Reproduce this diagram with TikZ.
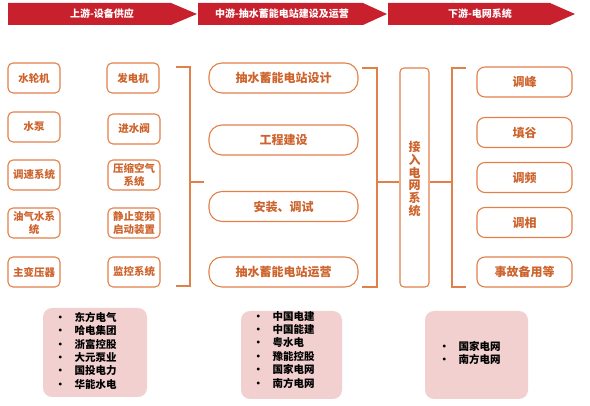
\documentclass[tikz,border=0pt]{standalone}
\usepackage{fontspec}
\setmainfont{Noto Sans CJK SC}
\usepackage{tikz}
\usetikzlibrary{arrows.meta, positioning, calc}

\definecolor{bannerred}{RGB}{200,32,45}
\definecolor{lineorange}{RGB}{226,128,74}
\definecolor{textorange}{RGB}{205,100,45}
\definecolor{listpink}{RGB}{242,208,208}

\begin{document}
\begin{tikzpicture}[x=1pt, y=-1pt,
    banner/.style={font=\bfseries\fontsize{10}{12}\selectfont, text=white},
    partbox/.style={draw=lineorange, line width=1.1pt, rounded corners=5pt, minimum width=52pt, minimum height=30pt, inner sep=1pt, align=center, text=textorange, font=\bfseries\fontsize{10.5}{13}\selectfont},
    buildbox/.style={draw=lineorange, line width=1.1pt, rounded corners=13pt, minimum width=149pt, minimum height=30pt, text=textorange, font=\bfseries\fontsize{12}{14}\selectfont},
    gridbox/.style={draw=lineorange, line width=1.1pt, rounded corners=8pt, minimum width=95pt, minimum height=30pt, text=textorange, font=\bfseries\fontsize{12}{14}\selectfont},
    bracket/.style={draw=lineorange, line width=1.1pt},
    listbox/.style={fill=listpink, rounded corners=9pt},
    listtext/.style={anchor=north west, align=left, inner sep=0pt, font=\bfseries\fontsize{10.5}{13.4}\selectfont}]
    \useasboundingbox (0,0) rectangle (590,406);

    % banners
    \fill[bannerred] (8,3) -- (171,3) -- (197,14) -- (171,25) -- (8,25) -- cycle;
    \fill[bannerred] (198,3) -- (363,3) -- (387,14) -- (363,25) -- (198,25) -- cycle;
    \fill[bannerred] (388,3) -- (550,3) -- (575,14) -- (550,25) -- (388,25) -- cycle;
    \node[banner] (up) at (102,14) {上游-设备供应};
    \node[banner] (mid) at (282,14) {中游-抽水蓄能电站建设及运营};
    \node[banner] (down) at (480,14) {下游-电网系统};

    % upstream equipment
    \node[partbox] (turbine) at (34,78) {水轮机};
    \node[partbox] (pump) at (34,127) {水泵};
    \node[partbox] (governor) at (34,175) {调速系统};
    \node[partbox] (oilgas) at (34,223) {油气水系\\统};
    \node[partbox] (transformer) at (34,272) {主变压器};
    \node[partbox] (generator) at (133,78) {发电机};
    \node[partbox] (valve) at (134,129) {进水阀};
    \node[partbox] (air) at (134,175) {压缩空气\\系统};
    \node[partbox] (sfc) at (134,223) {静止变频\\启动装置};
    \node[partbox] (monitor) at (134,272) {监控系统};

    % midstream
    \node[buildbox] (design) at (283.5,78) {抽水蓄能电站设计};
    \node[buildbox] (build) at (283.5,140) {工程建设};
    \node[buildbox] (install) at (283.5,206.5) {安装、调试};
    \node[buildbox] (operate) at (283.5,272) {抽水蓄能电站运营};

    \node[draw=lineorange, line width=1.1pt, rounded corners=4pt, minimum width=29pt, minimum height=219pt] (gridin) at (414.5,177.5) {};
    \node[text=textorange, align=center, font=\bfseries\fontsize{12}{12.8}\selectfont] (gridtxt) at (414.5,179) {接\\入\\电\\网\\系\\统};

    % downstream
    \node[gridbox] (peak) at (524.5,82) {调峰};
    \node[gridbox] (valley) at (524.5,132.5) {填谷};
    \node[gridbox] (freq) at (524.5,177.5) {调频};
    \node[gridbox] (phase) at (524.5,222.5) {调相};
    \node[gridbox] (reserve) at (524.5,272) {事故备用等};

    % brackets
    \draw[bracket] (176,67) -| (190,286) -- (176,286);
    \draw[bracket] (190,182) -- (204,182);
    \draw[bracket] (362,68) -| (377,287) -- (362,287);
    \draw[bracket] (377,182) -- (gridin.west |- 0,182);
    \draw[bracket] (466,68) -| (452,287) -- (466,287);
    \draw[bracket] (gridin.east |- 0,182) -- (452,182);

    % company lists
    \fill[listbox] (43,308) rectangle (147,397);
    \fill[listbox] (241,311) rectangle (342,399);
    \fill[listbox] (425,311) rectangle (528,399);
    \node[listtext] (upco) at (55,312) {\textbullet\hspace{9pt}东方电气\\\textbullet\hspace{9pt}哈电集团\\\textbullet\hspace{9pt}浙富控股\\\textbullet\hspace{9pt}大元泵业\\\textbullet\hspace{9pt}国投电力\\\textbullet\hspace{9pt}华能水电};
    \node[listtext] (midco) at (253,311) {\textbullet\hspace{9pt}中国电建\\\textbullet\hspace{9pt}中国能建\\\textbullet\hspace{9pt}粤水电\\\textbullet\hspace{9pt}豫能控股\\\textbullet\hspace{9pt}国家电网\\\textbullet\hspace{9pt}南方电网};
    \node[listtext] (downco) at (439,341) {\textbullet\hspace{9pt}国家电网\\\textbullet\hspace{9pt}南方电网};
\end{tikzpicture}
\end{document}
